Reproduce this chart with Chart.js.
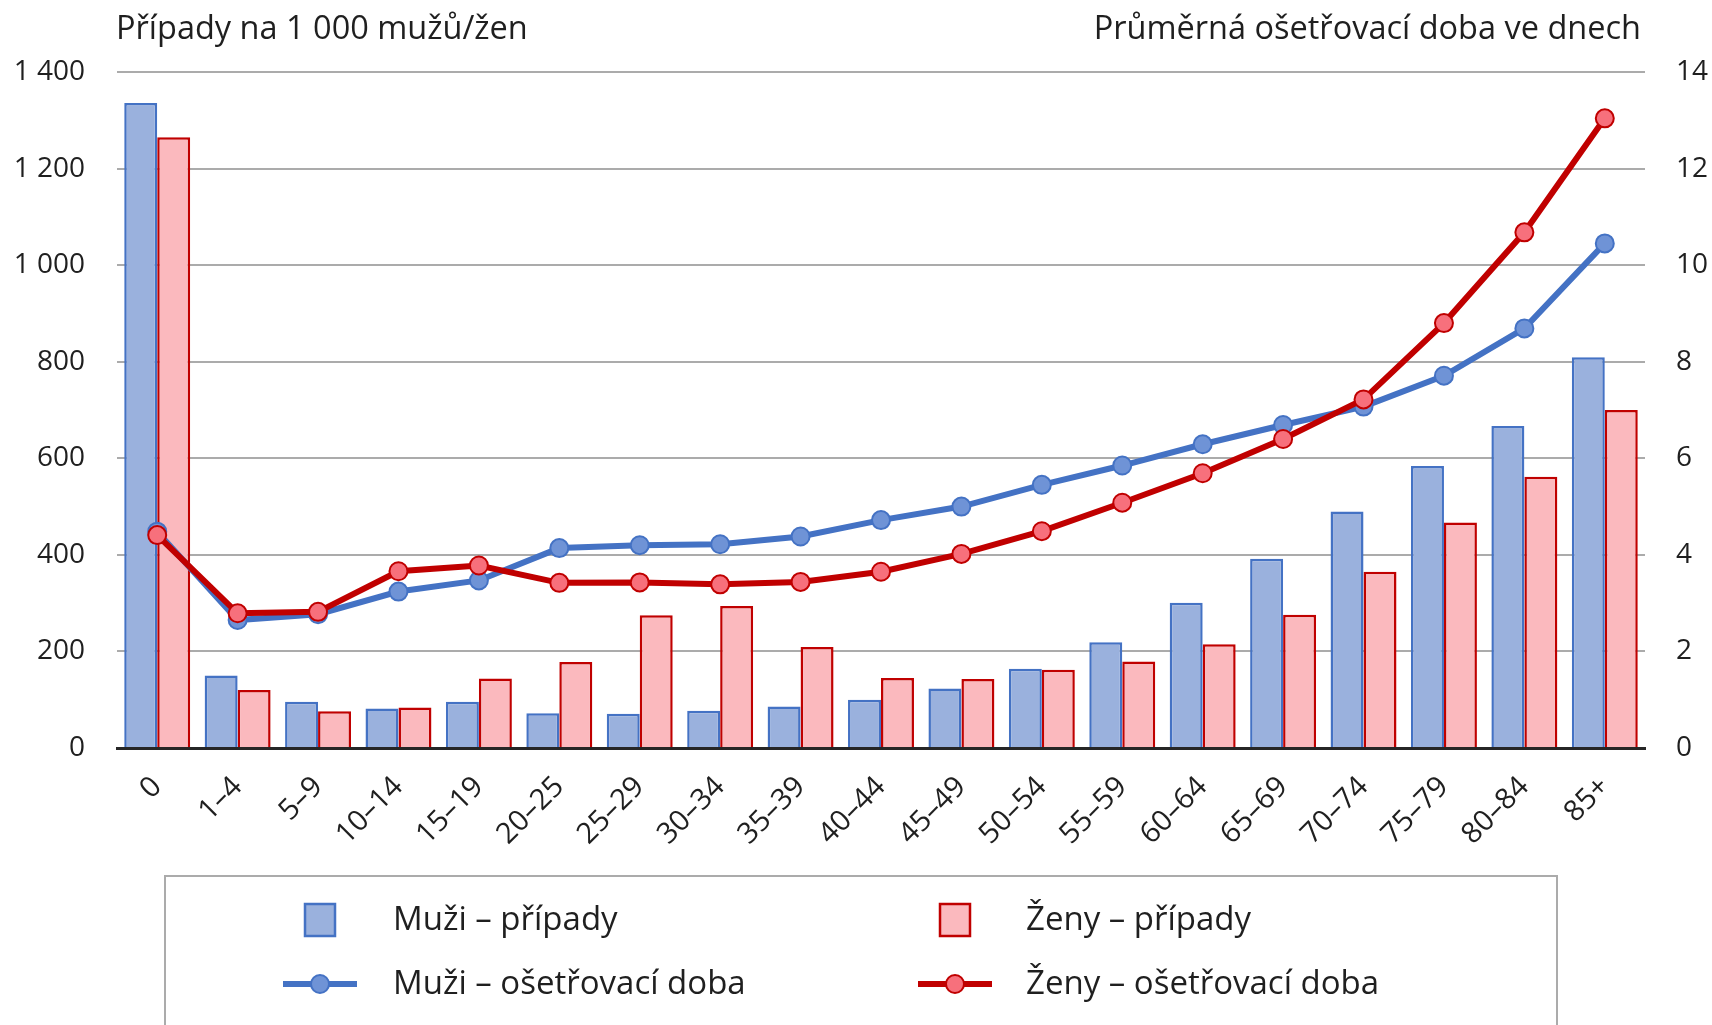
<!DOCTYPE html>
<html><head><meta charset="utf-8">
<script src="https://cdn.jsdelivr.net/npm/chart.js@4.4.1/dist/chart.umd.min.js"></script>
<style>html,body{margin:0;padding:0;background:#fff;overflow:hidden}#wrap{position:relative;width:1712px;height:1025px}</style>
</head><body><div id="wrap"><canvas id="c" width="1712" height="1025"></canvas></div>
<script>
const categories = ['0','1–4','5–9','10–14','15–19','20–25','25–29','30–34','35–39','40–44','45–49','50–54','55–59','60–64','65–69','70–74','75–79','80–84','85+'];
const muziPripady = [1336,150,96,82,96,72,71,77,86,100,123,164,219,301,392,490,584,667,809];
const zenyPripady = [1265,120,76,84,144,178,275,294,209,145,143,162,179,215,276,365,467,562,700];
const muziDoba = [4.48,2.65,2.77,3.24,3.47,4.14,4.20,4.22,4.38,4.72,5.00,5.45,5.85,6.29,6.69,7.07,7.71,8.69,10.45];
const zenyDoba = [4.41,2.79,2.82,3.66,3.78,3.42,3.43,3.39,3.44,3.65,4.02,4.49,5.08,5.69,6.40,7.22,8.80,10.68,13.04];
const leftTicks = ['0','200','400','600','800','1 000','1 200','1 400'];
const rightTicks = ['0','2','4','6','8','10','12','14'];
const seriesNames = ['Muži – případy','Ženy – případy','Muži – ošetřovací doba','Ženy – ošetřovací doba'];
const leftTitle = 'Případy na 1 000 mužů/žen';
const rightTitle = 'Průměrná ošetřovací doba ve dnech';

const FONT = "'Open Sans', 'Liberation Sans', sans-serif";
const TXT = '#1f1f1f';
const C = {
  mBar:'#9AB1DD', mEdge:'#4472C4', mPt:'#6F93D6',
  zBar:'#FBB9BE', zEdge:'#C00000', zPt:'#F7707C', grid:'#ABABAB'
};
Chart.defaults.font.family = FONT;
Chart.defaults.color = TXT;

const overlay = {
  id:'overlay',
  afterDraw(chart){
    const ctx = chart.ctx, ca = chart.chartArea;
    ctx.save();
    ctx.fillStyle = TXT;
    ctx.font = '32.5px ' + FONT;
    ctx.textBaseline = 'alphabetic';
    ctx.textAlign = 'left';
    ctx.fillText(leftTitle, ca.left - 1, 39);
    ctx.textAlign = 'right';
    ctx.fillText(rightTitle, ca.right - 4, 39);
    // legend box
    ctx.strokeStyle = C.grid; ctx.lineWidth = 2;
    ctx.strokeRect(165, 876, 1392, 220);
    const items = [
      {kind:'bar', fill:C.mBar, edge:C.mEdge, cx:320, y:920, tx:393, label:seriesNames[0]},
      {kind:'bar', fill:C.zBar, edge:C.zEdge, cx:955, y:920, tx:1026, label:seriesNames[1]},
      {kind:'line', fill:C.mPt, edge:C.mEdge, cx:320, y:984, tx:393, label:seriesNames[2]},
      {kind:'line', fill:C.zPt, edge:C.zEdge, cx:955, y:984, tx:1026, label:seriesNames[3]}
    ];
    items.forEach(it=>{
      if(it.kind==='bar'){
        ctx.fillStyle = it.fill; ctx.fillRect(it.cx-15, it.y-16, 30, 32);
        ctx.strokeStyle = it.edge; ctx.lineWidth = 2.5; ctx.strokeRect(it.cx-15, it.y-16, 30, 32);
      } else {
        ctx.strokeStyle = it.edge; ctx.lineWidth = 6;
        ctx.beginPath(); ctx.moveTo(it.cx-37, it.y); ctx.lineTo(it.cx+37, it.y); ctx.stroke();
        ctx.beginPath(); ctx.arc(it.cx, it.y, 9, 0, Math.PI*2);
        ctx.fillStyle = it.fill; ctx.fill(); ctx.lineWidth = 2; ctx.stroke();
      }
      ctx.fillStyle = TXT; ctx.font = '33px ' + FONT;
      ctx.textAlign = 'left'; ctx.textBaseline = 'middle';
      ctx.fillText(it.label, it.tx, it.y + 1);
    });
    ctx.restore();
  }
};

new Chart(document.getElementById('c'), {
  data: {
    labels: categories,
    datasets: [
      {type:'bar', label:seriesNames[0], data:muziPripady, yAxisID:'y', backgroundColor:C.mBar, borderColor:C.mEdge, borderWidth:2.5, order:2, categoryPercentage:0.82, barPercentage:1},
      {type:'bar', label:seriesNames[1], data:zenyPripady, yAxisID:'y', backgroundColor:C.zBar, borderColor:C.zEdge, borderWidth:2.5, order:2, categoryPercentage:0.82, barPercentage:1},
      {type:'line', label:seriesNames[2], data:muziDoba, yAxisID:'y1', borderColor:C.mEdge, backgroundColor:C.mPt, pointBackgroundColor:C.mPt, pointBorderColor:C.mEdge, pointBorderWidth:2, pointRadius:9, borderWidth:6, tension:0, order:1},
      {type:'line', label:seriesNames[3], data:zenyDoba, yAxisID:'y1', borderColor:C.zEdge, backgroundColor:C.zPt, pointBackgroundColor:C.zPt, pointBorderColor:C.zEdge, pointBorderWidth:2, pointRadius:9, borderWidth:6, tension:0, order:0}
    ]
  },
  options: {
    responsive:false, animation:false, devicePixelRatio:1,
    layout:{padding:{top:72, left:0, right:0, bottom:0}},
    plugins:{legend:{display:false}, tooltip:{enabled:false}},
    scales:{
      x:{
        z:1,
        grid:{display:false, drawTicks:false},
        border:{display:true, color:'#262626', width:3},
        ticks:{autoSkip:false, maxRotation:45, minRotation:45, padding:22, font:{size:29}, color:TXT},
        afterFit(s){ s.height = 277; }
      },
      y:{
        position:'left', min:0, max:1400,
        ticks:{stepSize:200, padding:32, font:{size:28}, color:TXT, callback:(v,i)=>leftTicks[i]},
        grid:{color:C.grid, lineWidth:2, drawTicks:false},
        border:{display:false},
        afterFit(s){ s.width = 117; }
      },
      y1:{
        position:'right', min:0, max:14,
        ticks:{stepSize:2, padding:31, font:{size:28}, color:TXT, callback:(v,i)=>rightTicks[i]},
        grid:{display:false, drawTicks:false},
        border:{display:false},
        afterFit(s){ s.width = 67; }
      }
    }
  },
  plugins:[overlay]
});
</script>
</body></html>
